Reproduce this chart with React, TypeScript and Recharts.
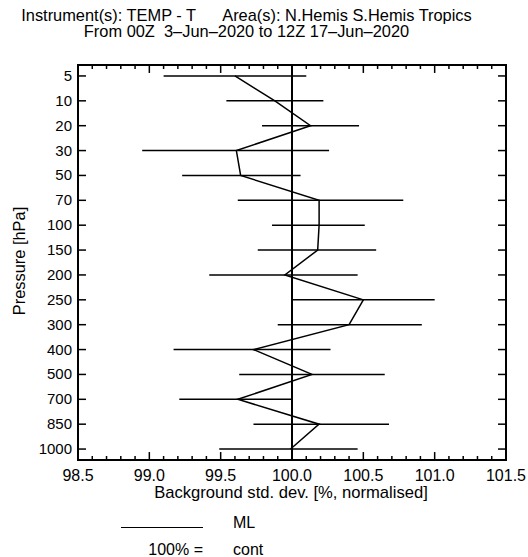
import {
  ScatterChart,
  Scatter,
  XAxis,
  YAxis,
  ErrorBar,
  ReferenceLine,
  ReferenceArea,
} from 'recharts'

// pressure levels, top to bottom
const levels = ['5', '10', '20', '30', '50', '70', '100', '150', '200', '250', '300', '400', '500', '700', '850', '1000']

// ML background std. dev. [%, normalised]
const mlValues = [99.6, 99.88, 100.13, 99.61, 99.64, 100.19, 100.19, 100.18, 99.95, 100.5, 100.4, 99.73, 100.14, 99.62, 100.19, 99.99]

// horizontal bar extents
const barLow = [99.1, 99.54, 99.79, 98.95, 99.23, 99.62, 99.86, 99.76, 99.42, 100.0, 99.9, 99.17, 99.63, 99.21, 99.73, 99.49]
const barHigh = [100.1, 100.22, 100.47, 100.26, 100.06, 100.78, 100.51, 100.59, 100.46, 101.0, 100.91, 100.27, 100.65, 100.0, 100.68, 100.46]

const majorTicks = [98.5, 99.0, 99.5, 100.0, 100.5, 101.0, 101.5]
const minorTicks = Array.from({ length: 31 }, (_, i) => Math.round((98.5 + i * 0.1) * 10) / 10).filter(
  v => !majorTicks.includes(v)
)
const yTicks = levels.map((_, i) => i)

const data = levels.map((level, i) => ({
  i,
  level,
  ml: mlValues[i],
  err: [mlValues[i] - barLow[i], barHigh[i] - mlValues[i]],
}))

const FONT = '"Liberation Sans", Arial, sans-serif'
const X_DOMAIN: [number, number] = [98.5, 101.5]
const Y_DOMAIN: [number, number] = [-0.44, 15.44]

// inward tick lengths in axis units (~8px / ~4px)
const MAJOR_LEN_Y = 0.32
const MINOR_LEN_Y = 0.16
const TICK_LEN_X = 0.056

const BottomLabel = (props: any) => {
  const { x, y, payload } = props
  return (
    <text x={x} y={y + 21} textAnchor="middle" fontSize={16} fontFamily={FONT} fill="#000">
      {payload.value.toFixed(1)}
    </text>
  )
}

const LeftLabel = (props: any) => {
  const { x, y, payload } = props
  return (
    <text x={x - 6} y={y + 5} textAnchor="end" fontSize={15} fontFamily={FONT} fill="#000">
      {levels[payload.value]}
    </text>
  )
}

const abs = (left: number, top: number, extra: any = {}) => ({
  position: 'absolute' as const,
  left,
  top,
  fontFamily: FONT,
  fontSize: 16.4,
  lineHeight: '15px',
  whiteSpace: 'pre' as const,
  color: '#000',
  ...extra,
})

const tickLine = (key: string, segment: { x: number; y: number }[]) => (
  <ReferenceLine
    key={key}
    xAxisId="x"
    yAxisId="y"
    segment={segment}
    stroke="#000"
    strokeWidth={1.5}
  />
)

export default function App() {
  const [yTop, yBottom] = [Y_DOMAIN[0], Y_DOMAIN[1]]
  const [xLeft, xRight] = X_DOMAIN
  return (
    <div style={{ position: 'absolute', left: 0, top: 0, width: 528, height: 557, background: '#fff' }}>
      <div style={abs(0, 8.3, { width: 493, textAlign: 'center', lineHeight: '15.5px' })}>
        {'Instrument(s): TEMP - T      Area(s): N.Hemis S.Hemis Tropics\nFrom 00Z  3–Jun–2020 to 12Z 17–Jun–2020'}
      </div>

      <ScatterChart width={528} height={557} margin={{ top: 65, right: 22, bottom: 67, left: 0 }}>
        <XAxis
          xAxisId="x"
          type="number"
          dataKey="ml"
          domain={X_DOMAIN}
          ticks={majorTicks}
          interval={0}
          allowDataOverflow
          height={30}
          tickSize={0}
          tickMargin={0}
          tickLine={false}
          axisLine={false}
          tick={<BottomLabel />}
        />
        <YAxis
          yAxisId="y"
          type="number"
          dataKey="i"
          domain={Y_DOMAIN}
          reversed
          ticks={yTicks}
          interval={0}
          allowDataOverflow
          width={78}
          tickSize={0}
          tickMargin={0}
          tickLine={false}
          axisLine={false}
          tick={<LeftLabel />}
        />
        <ReferenceArea
          xAxisId="x"
          yAxisId="y"
          x1={xLeft}
          x2={xRight}
          y1={yTop}
          y2={yBottom}
          fill="none"
          fillOpacity={0}
          stroke="#000"
          strokeWidth={2}
          strokeOpacity={1}
        />
        {majorTicks.map(v => tickLine(`mb${v}`, [{ x: v, y: yBottom }, { x: v, y: yBottom - MAJOR_LEN_Y }]))}
        {majorTicks.map(v => tickLine(`mt${v}`, [{ x: v, y: yTop }, { x: v, y: yTop + MAJOR_LEN_Y }]))}
        {minorTicks.map(v => tickLine(`nb${v}`, [{ x: v, y: yBottom }, { x: v, y: yBottom - MINOR_LEN_Y }]))}
        {minorTicks.map(v => tickLine(`nt${v}`, [{ x: v, y: yTop }, { x: v, y: yTop + MINOR_LEN_Y }]))}
        {yTicks.map(i => tickLine(`yl${i}`, [{ x: xLeft, y: i }, { x: xLeft + TICK_LEN_X, y: i }]))}
        {yTicks.map(i => tickLine(`yr${i}`, [{ x: xRight, y: i }, { x: xRight - TICK_LEN_X, y: i }]))}
        <ReferenceLine xAxisId="x" yAxisId="y" x={100} stroke="#000" strokeWidth={2} />
        <Scatter
          xAxisId="x"
          yAxisId="y"
          data={data}
          line={{ stroke: '#000', strokeWidth: 1.5 }}
          lineType="joint"
          shape={() => <g />}
          isAnimationActive={false}
        >
          <ErrorBar dataKey="err" direction="x" width={0} stroke="#000" strokeWidth={1.5} />
        </Scatter>
      </ScatterChart>

      <div style={abs(0, 485, { width: 582, textAlign: 'center', fontSize: 16.6 })}>Background std. dev. [%, normalised]</div>
      <div
        style={abs(20 - 60, 261 - 8, {
          width: 120,
          textAlign: 'center',
          transform: 'rotate(-90deg)',
          transformOrigin: '60px 8px',
        })}
      >
        Pressure [hPa]
      </div>

      <div style={{ position: 'absolute', left: 121, top: 527, width: 82, borderTop: '1.5px solid #000' }} />
      <div style={abs(233, 515, { fontSize: 16 })}>ML</div>
      <div style={abs(103, 542, { fontSize: 16, width: 100, textAlign: 'right' })}>100% =</div>
      <div style={abs(233, 542, { fontSize: 16 })}>cont</div>
    </div>
  )
}
